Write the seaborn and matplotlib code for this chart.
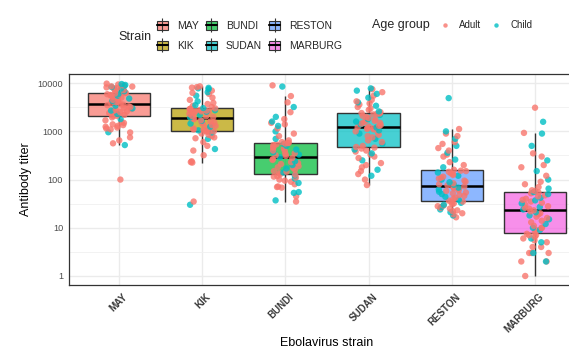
import matplotlib
matplotlib.use('Agg')
import matplotlib.pyplot as plt
import matplotlib.transforms as mtransforms
from matplotlib.colors import to_rgba
from matplotlib.legend_handler import HandlerTuple
from matplotlib.lines import Line2D
from matplotlib.patches import Patch
from matplotlib.ticker import FixedLocator, NullFormatter
import numpy as np
import pandas as pd
import seaborn as sns

strains = ['MAY', 'KIK', 'BUNDI', 'SUDAN', 'RESTON', 'MARBURG']
age_groups = ['Adult', 'Child']

may_adult = [100, 565, 650, 750, 950, 1100, 1150, 1200, 1250, 1300, 1350, 1400, 1500, 1550, 1700,
             1950, 2090, 2100, 2200, 2400, 2500, 2600, 2650, 2800, 2900, 3100, 3200, 3300, 3500,
             3600, 3700, 3900, 4000, 4100, 4500, 4700, 5000, 5200, 5300, 5600, 5700, 5800, 5900,
             6100, 6200, 6300, 6500, 7000, 7200, 7500, 7800, 8000, 8200, 8500, 8600, 9000, 9400, 9800]
may_child = [520, 960, 1800, 2300, 2700, 3000, 3400, 3830, 4300, 4800, 5500, 6000, 6800, 7700,
             8300, 8800, 9200, 9600]

kik_adult = [35, 225, 230, 240, 320, 400, 500, 600, 720, 750, 800, 850, 900, 970, 990, 1000, 1020,
             1080, 1100, 1150, 1200, 1300, 1350, 1400, 1500, 1550, 1600, 1700, 1800, 1850, 2000,
             2050, 2100, 2300, 2400, 2500, 2600, 2650, 2700, 2800, 2850, 2900, 2950, 3000, 3200,
             3400, 3700, 3900, 4500, 5000, 6000, 6300, 7000, 8100, 8300, 8600]
kik_child = [30, 430, 700, 950, 1050, 1250, 1450, 1650, 1950, 2200, 2550, 2750, 3050, 3500, 4200,
             5500, 6500, 7500, 7800, 8000]

bundi_adult = [35, 45, 68, 70, 72, 80, 90, 95, 100, 110, 115, 118, 126, 129, 135, 145, 150, 160,
               175, 180, 190, 210, 220, 230, 255, 265, 280, 310, 320, 340, 350, 390, 400, 440, 460,
               480, 520, 540, 560, 570, 580, 600, 650, 800, 900, 1150, 1400, 1500, 1800, 2500,
               4000, 5400, 9000]
bundi_child = [37, 53, 55, 85, 105, 122, 140, 170, 200, 240, 290, 330, 370, 420, 500, 550, 700,
               1000, 1300, 1600, 2000, 3200, 8500]

sudan_adult = [77, 100, 130, 150, 180, 200, 220, 280, 300, 330, 380, 400, 440, 460, 475, 500, 600,
               650, 750, 800, 850, 950, 1000, 1100, 1120, 1150, 1180, 1220, 1260, 1300, 1350, 1450,
               1500, 1550, 1650, 1700, 1750, 1900, 2000, 2100, 2250, 2300, 2350, 2400, 2500, 2800,
               3000, 3200, 3600, 3800, 4200, 4500, 5500, 6500, 7500]
sudan_child = [120, 160, 250, 350, 420, 550, 700, 900, 1050, 1200, 1400, 1600, 1800, 2200, 2600,
               3400, 4000, 5000, 6000, 7000, 7800]

reston_adult = [16.5, 19, 20, 22, 23, 25, 26, 28, 29, 31, 32, 34, 35, 36.5, 40, 42, 46, 48, 52, 54,
                58, 60, 64, 66, 70, 72, 76, 80, 84, 90, 95, 105, 110, 115, 125, 130, 135, 145, 150,
                153, 160, 200, 230, 300, 330, 400, 450, 550, 600, 800, 900, 1120]
reston_child = [18, 21, 24, 27, 30, 33, 38, 44, 50, 56, 62, 68, 78, 88, 100, 120, 140, 180, 260,
                360, 500, 700, 1000, 4900]

marburg_adult = [1, 2, 2, 3, 3, 3, 4, 4, 5, 5.5, 6, 6.5, 7, 7, 7.5, 8, 9, 10, 10, 11, 13, 14, 16,
                 17, 19, 20, 22, 23, 25, 26, 28, 30, 33, 35, 38, 40, 45, 47, 52, 54, 58, 60, 70, 80,
                 90, 120, 180, 200, 300, 350, 930, 3100]
marburg_child = [2, 3, 5, 6, 9, 10, 12, 15, 18, 21, 24, 27, 32, 37, 42, 50, 55, 65, 100, 150, 250,
                 500, 900, 1580]

y_ticks = [1, 10, 100, 1000, 10000]
y_tick_labels = ['1', '10', '100', '1000', '10000']

box_colors = ['#F8766D', '#B79F00', '#00BA38', '#00BFC4', '#619CFF', '#F564E3']
age_colors = ['#F8766D', '#00BFC4']

adult_lists = [may_adult, kik_adult, bundi_adult, sudan_adult, reston_adult, marburg_adult]
child_lists = [may_child, kik_child, bundi_child, sudan_child, reston_child, marburg_child]
rows = []
for s, a, c in zip(strains, adult_lists, child_lists):
    rows += [(s, 'Adult', v) for v in a]
    rows += [(s, 'Child', v) for v in c]
df = pd.DataFrame(rows, columns=['strain', 'age', 'titer'])
df = df.sort_values('titer', kind='stable').reset_index(drop=True)

sns.set_style('white')
plt.rcParams['font.family'] = ['Liberation Sans', 'DejaVu Sans']

fig = plt.figure(figsize=(5.69, 3.5), dpi=100)
ax = fig.add_axes([69 / 569, 65 / 350, 516 / 569, 211 / 350])

sns.boxplot(data=df, x='strain', y='titer', hue='strain', order=strains, hue_order=strains,
            palette=box_colors, saturation=1, width=0.75, linecolor='#333333', linewidth=1.0,
            showfliers=False, showcaps=False, medianprops=dict(color='black', linewidth=1.8),
            log_scale=True, legend=False, ax=ax)
for p in ax.patches:
    fc = p.get_facecolor()
    p.set_facecolor((fc[0], fc[1], fc[2], 0.72))

np.random.seed(3)
sns.stripplot(data=df, x='strain', y='titer', hue='age', order=strains, hue_order=age_groups,
              palette=age_colors, jitter=0.17, size=4.6, alpha=0.8, linewidth=0, legend=False,
              zorder=3, ax=ax)

ax.set_xlim(-0.6, 5.6)
ax.set_ylim(0.65, 15500)
ax.set_yticks(y_ticks, labels=y_tick_labels)
ax.yaxis.set_minor_locator(FixedLocator([10 ** (k + 0.5) for k in range(-1, 5)]))
ax.yaxis.set_minor_formatter(NullFormatter())
ax.tick_params(axis='y', which='minor', length=0)
ax.tick_params(axis='both', which='major', length=2.2, width=0.8, color='#333333',
               labelcolor='#4D4D4D')
ax.tick_params(axis='y', which='major', labelsize=6.6, pad=2)
ax.tick_params(axis='x', which='major', pad=2.5)
ax.grid(True, which='major', color='#EBEBEB', linewidth=1.0)
ax.grid(True, which='minor', axis='y', color='#F0F0F0', linewidth=0.6)
ax.set_axisbelow(True)
for sp in ax.spines.values():
    sp.set_visible(True)
    sp.set_color('#333333')
    sp.set_linewidth(0.9)

offset = mtransforms.ScaledTranslation(0.035, 0, fig.dpi_scale_trans)
for lab in ax.get_xticklabels():
    lab.set_rotation(45)
    lab.set_ha('right')
    lab.set_va('top')
    lab.set_rotation_mode('anchor')
    lab.set_fontweight('bold')
    lab.set_fontsize(7)
    lab.set_color('#3A3A3A')
    lab.set_transform(lab.get_transform() + offset)

ax.set_xlabel('Ebolavirus strain', fontsize=9, color='black')
ax.xaxis.set_label_coords(0.5, -0.245)
ax.set_ylabel('Antibody titer', fontsize=9, color='black', labelpad=4)

strain_handles = []
for c in box_colors:
    box = Patch(facecolor=to_rgba(c, 0.72), edgecolor='#333333', linewidth=0.8)
    whisker = Line2D([], [], color='#333333', marker='|', markersize=10, linestyle='None',
                     markeredgewidth=0.8)
    median = Line2D([], [], color='black', linewidth=1.5)
    strain_handles.append((box, whisker, median))
fig.legend(strain_handles, strains, handler_map={tuple: HandlerTuple(ndivide=1, pad=0)},
           ncol=3, loc='center left', bbox_to_anchor=(157 / 569, 1 - 36 / 350),
           frameon=False, fontsize=7.5, handlelength=1.05, handleheight=0.95,
           handletextpad=0.85, columnspacing=0.7, labelspacing=0.9, borderpad=0,
           borderaxespad=0)

age_handles = [Line2D([], [], marker='o', linestyle='None', color=c, markersize=3.2, alpha=0.8,
                      markeredgewidth=0) for c in age_colors]
fig.legend(age_handles, age_groups, ncol=2, loc='center left',
           bbox_to_anchor=(440 / 569, 1 - 25 / 350), frameon=False, fontsize=7,
           handlelength=1.1, handletextpad=0.9, columnspacing=0.95, borderpad=0,
           borderaxespad=0)

fig.text(118 / 569, 1 - 36.7 / 350, 'Strain', fontsize=9, va='center')
fig.text(372 / 569, 1 - 25 / 350, 'Age group', fontsize=9, va='center')

fig.savefig('out.png', dpi=100)
